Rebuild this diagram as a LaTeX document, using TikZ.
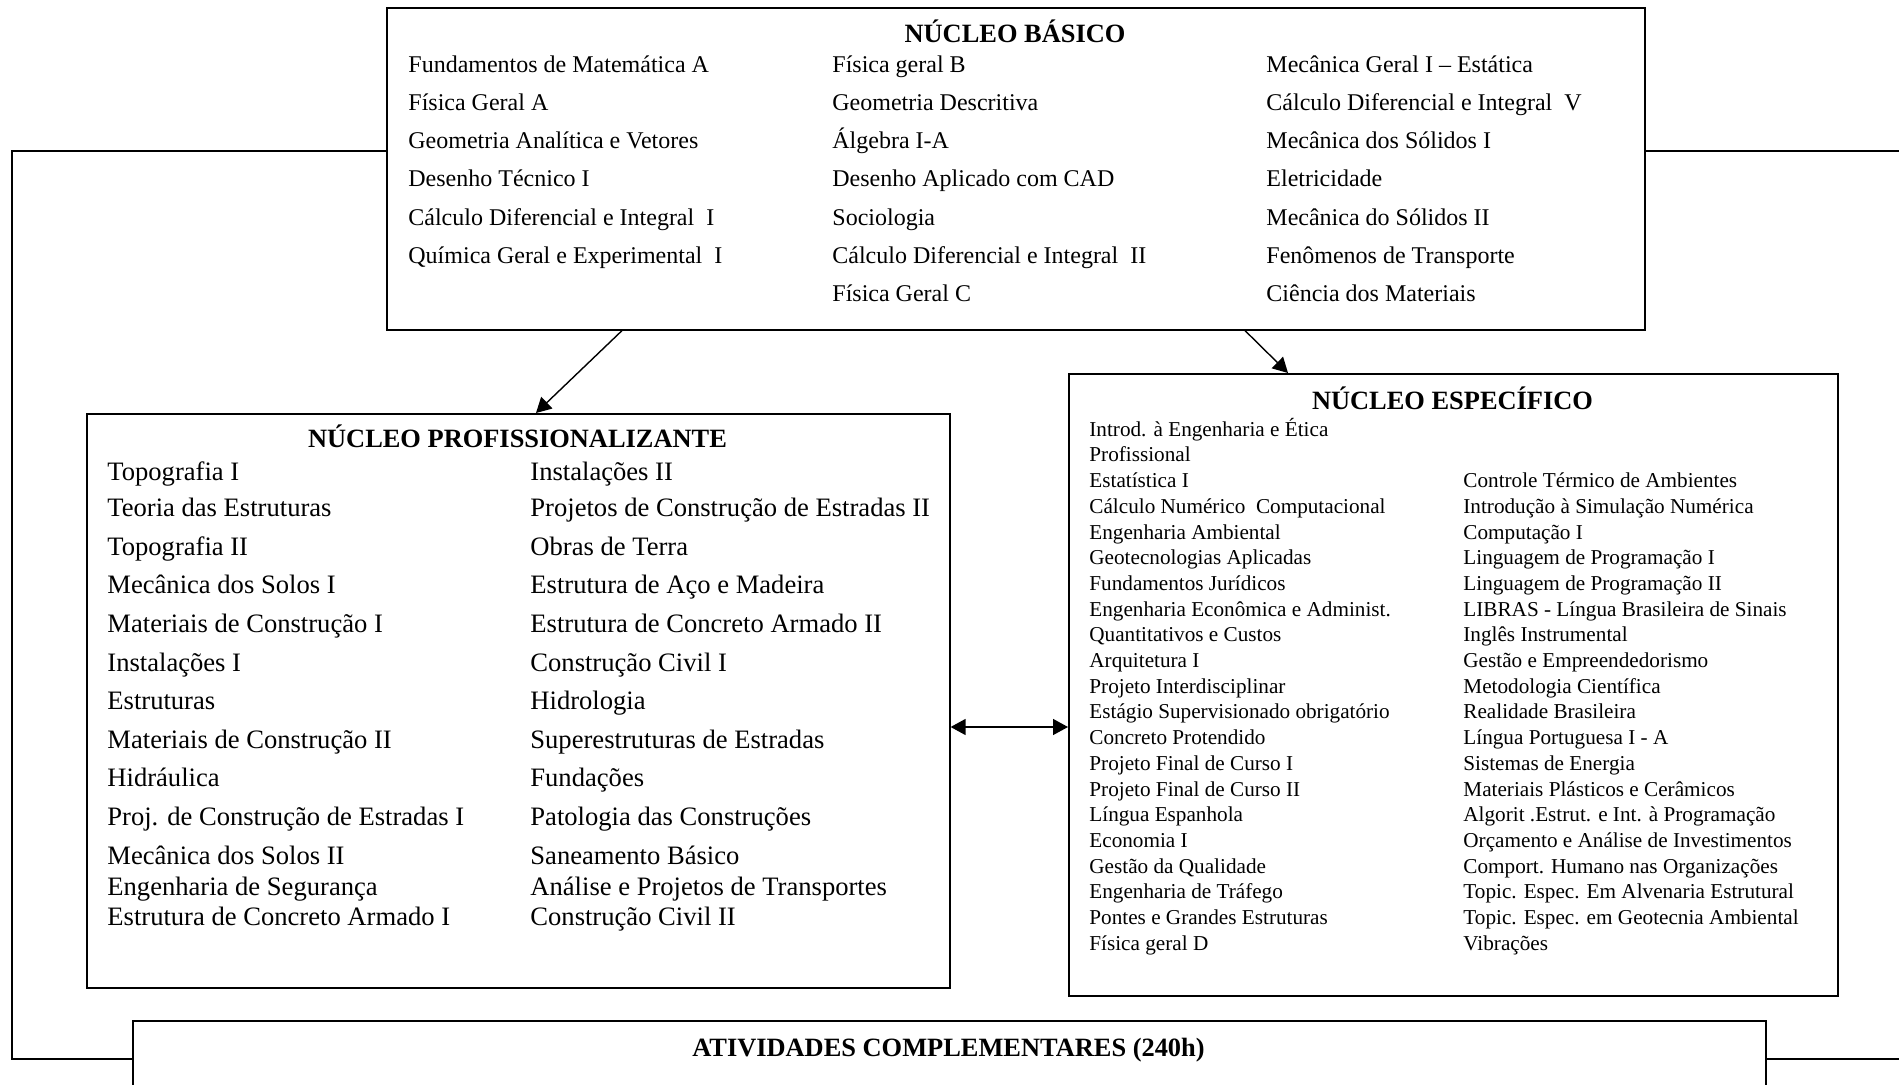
\documentclass[tikz,border=0pt]{standalone}
\usepackage{fontspec}
\setmainfont{Liberation Serif}
\usetikzlibrary{arrows.meta,calc}
\tikzset{
  box/.style={draw, line width=0.8pt, anchor=north west, inner sep=0pt},
  ttl/.style={font=\fontsize{13.2}{15}\selectfont\bfseries, inner sep=0pt, text height=0.68em, text depth=0pt, yshift=-1.4pt},
  itA/.style={font=\fontsize{12}{14}\selectfont, anchor=west, inner sep=0pt, text height=0.66em, text depth=0pt, yshift=-1.4pt},
  itB/.style={font=\fontsize{13.3}{15}\selectfont, anchor=west, inner sep=0pt, text height=0.66em, text depth=0pt, yshift=-1.4pt},
  itC/.style={font=\fontsize{10.6}{12.5}\selectfont, anchor=west, inner sep=0pt, text height=0.66em, text depth=0pt, yshift=-0.8pt},
  conn/.style={line width=0.7pt},
  arr/.style={line width=0.7pt, -{Triangle[length=7.5pt,width=8pt]}},
  arrtwo/.style={line width=0.7pt, {Triangle[length=7.5pt,width=8pt]}-{Triangle[length=7.5pt,width=8pt]}}
}
\begin{document}
\begin{tikzpicture}[x=0.5pt,y=-0.5pt]
\useasboundingbox (0,0) rectangle (1899,1085);
\clip (0,0) rectangle (1899,1085);
% boxes
\node[box, minimum width=629pt, minimum height=161pt] (basico) at (386,7) {};
\node[box, minimum width=431.5pt, minimum height=287pt] (prof) at (86,413) {};
\node[box, minimum width=384.5pt, minimum height=311pt] (espec) at (1068,373) {};
\node[box, minimum width=816.5pt, minimum height=50pt] (ativ) at (132,1020) {};
% titles
\node[ttl] (tbasico) at (1015,33) {NÚCLEO BÁSICO};
\node[ttl] (tprof) at (517.5,438) {NÚCLEO PROFISSIONALIZANTE};
\node[ttl] (tespec) at (1452.5,400) {NÚCLEO ESPECÍFICO};
\node[ttl] (tativ) at (948.5,1047) {ATIVIDADES COMPLEMENTARES (240h)};
% basico items
\foreach \t [count=\i] in {Fundamentos de Matemática A, Física Geral A, Geometria Analítica e Vetores, Desenho Técnico I, Cálculo Diferencial e Integral\ \ I, Química Geral e Experimental\ \ I}
  \node[itA, name=ba\i] at (408,{63+38.2*(\i-1)}) {\t};
\foreach \t [count=\i] in {Física geral B, Geometria Descritiva, Álgebra I-A, Desenho Aplicado com CAD, Sociologia, Cálculo Diferencial e Integral\ \ II, Física Geral C}
  \node[itA, name=bb\i] at (832,{63+38.2*(\i-1)}) {\t};
\foreach \t [count=\i] in {Mecânica Geral I – Estática, Cálculo Diferencial e Integral\ \ V, Mecânica dos Sólidos I, Eletricidade, Mecânica do Sólidos II, Fenômenos de Transporte, Ciência dos Materiais}
  \node[itA, name=bc\i] at (1266,{63+38.2*(\i-1)}) {\t};
% profissionalizante items
\foreach \y/\t [count=\i] in {471/Topografia I, 507.5/Teoria das Estruturas, 546/Topografia II, 584.5/Mecânica dos Solos I, 623.5/Materiais de Construção I, 662/Instalações I, 700/Estruturas, 739/Materiais de Construção II, 777/Hidráulica, 816/Proj. de Construção de Estradas I, 855.5/Mecânica dos Solos II, 886/Engenharia de Segurança, 916.5/Estrutura de Concreto Armado I}
  \node[itB, name=pa\i] at (107,\y) {\t};
\foreach \y/\t [count=\i] in {471/Instalações II, 507.5/Projetos de Construção de Estradas II, 546/Obras de Terra, 584.5/Estrutura de Aço e Madeira, 623.5/Estrutura de Concreto Armado II, 662/Construção Civil I, 700/Hidrologia, 739/Superestruturas de Estradas, 777/Fundações, 816/Patologia das Construções, 855.5/Saneamento Básico, 886/Análise e Projetos de Transportes, 916.5/Construção Civil II}
  \node[itB, name=pb\i] at (530,\y) {\t};
% especifico items
\foreach \t [count=\i] in {Introd. à Engenharia e Ética, Profissional, Estatística I, Cálculo Numérico\ \ Computacional, Engenharia Ambiental, Geotecnologias Aplicadas, Fundamentos Jurídicos, Engenharia Econômica e Administ., Quantitativos e Custos, Arquitetura I, Projeto Interdisciplinar, Estágio Supervisionado obrigatório, Concreto Protendido, Projeto Final de Curso I, Projeto Final de Curso II, Língua Espanhola, Economia I, Gestão da Qualidade, Engenharia de Tráfego, Pontes e Grandes Estruturas, Física geral D}
  \node[itC, name=ea\i] at (1089,{428+25.7*(\i-1)}) {\t};
\foreach \t [count=\i] in {Controle Térmico de Ambientes, Introdução à Simulação Numérica, Computação I, Linguagem de Programação I, Linguagem de Programação II, LIBRAS - Língua Brasileira de Sinais, Inglês Instrumental, Gestão e Empreendedorismo, Metodologia Científica, Realidade Brasileira, Língua Portuguesa I - A, Sistemas de Energia, Materiais Plásticos e Cerâmicos, Algorit .Estrut. e Int. à Programação, Orçamento e Análise de Investimentos, Comport. Humano nas Organizações, Topic. Espec. Em Alvenaria Estrutural, Topic. Espec. em Geotecnia Ambiental, Vibrações}
  \node[itC, name=eb\i] at (1463,{428+25.7*(\i+1)}) {\t};
% connectors
\draw[arr] ($(basico.south west)+(236,0)$) -- ($(prof.north west)+(450,0)$);
\draw[arr] ($(basico.south west)+(859,0)$) -- ($(espec.north west)+(220,0)$);
\draw[arrtwo] ($(prof.north east)+(0,314)$) -- ($(espec.north west)+(0,354)$);
\coordinate (lt) at (12,151);
\coordinate (lb) at (12,1059);
\coordinate (rt) at (1899,151);
\coordinate (rb) at (1899,1059);
\draw[conn] ($(basico.north west)+(0,144)$) -- (lt) -- (lb) -- (lb -| ativ.west);
\draw[conn] ($(basico.north east)+(0,144)$) -- (rt);
\draw[conn] (rb -| ativ.east) -- (rb);
\end{tikzpicture}
\end{document}
